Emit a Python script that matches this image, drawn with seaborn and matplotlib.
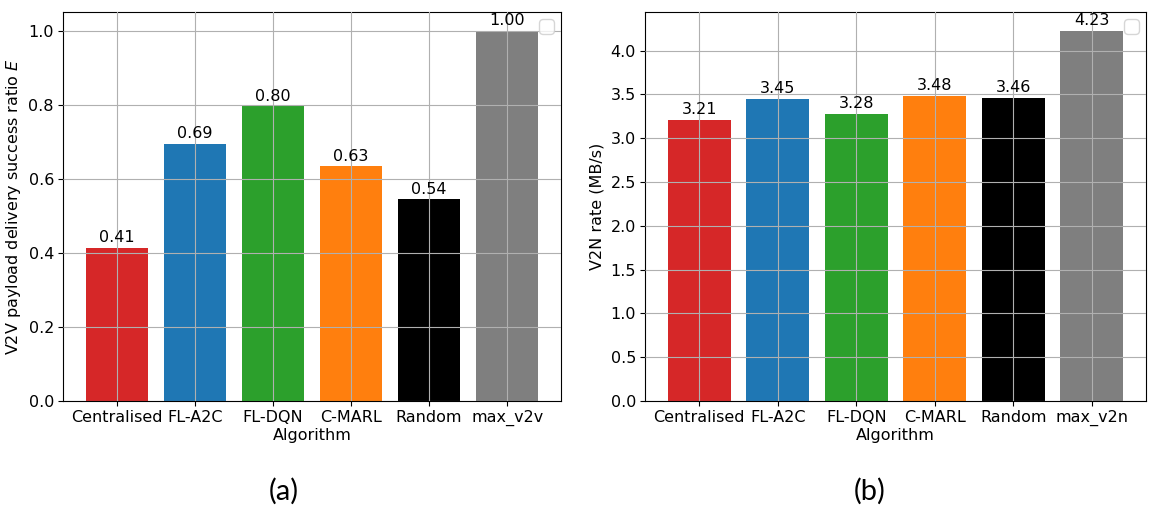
import matplotlib
matplotlib.use("Agg")
import matplotlib.pyplot as plt
import seaborn as sns
import pandas as pd

algorithms_a = ["Centralised", "FL-A2C", "FL-DQN", "C-MARL", "Random", "max_v2v"]
v2v_success = [0.413, 0.694, 0.795, 0.633, 0.544, 1.00]
algorithms_b = ["Centralised", "FL-A2C", "FL-DQN", "C-MARL", "Random", "max_v2n"]
v2n_rate = [3.21, 3.45, 3.28, 3.48, 3.46, 4.23]
bar_colors = ["#d62728", "#1f77b4", "#2ca02c", "#ff7f0e", "#000000", "#7f7f7f"]

plt.rcParams["font.family"] = ["DejaVu Sans"]
FS = 11.5

fig = plt.figure(figsize=(11.52, 5.08), dpi=100)
ax1 = fig.add_axes([0.0547, 0.2106, 0.4323, 0.7658])
ax2 = fig.add_axes([0.5599, 0.2106, 0.4349, 0.7658])

def draw(ax, cats, vals, ylabel):
    df = pd.DataFrame({"Algorithm": cats, "v": vals})
    sns.barplot(data=df, x="Algorithm", y="v", hue="Algorithm",
                palette=bar_colors, saturation=1, width=0.8,
                legend=False, ax=ax, errorbar=None, linewidth=0,
                edgecolor="none")
    for c in ax.containers:
        ax.bar_label(c, fmt="%.2f", fontsize=FS, padding=2, color="black")
    ax.set_xlim(-0.69, len(cats) - 1 + 0.69)
    ax.set_ylim(0, max(vals) * 1.05)
    ax.grid(True, color="#b0b0b0", linewidth=0.8)
    ax.set_axisbelow(False)
    ax.set_xlabel("Algorithm", fontsize=FS, labelpad=1, color="black")
    ax.set_ylabel(ylabel, fontsize=FS, color="black")
    ax.tick_params(axis="both", labelsize=FS, length=3.5, width=0.8,
                   bottom=True, left=True, pad=3, colors="black")
    for s in ax.spines.values():
        s.set_visible(True)
        s.set_color("black")
        s.set_linewidth(0.8)
    ax.legend(handles=[], loc="upper right", fontsize=14, borderaxespad=0.35)

draw(ax1, algorithms_a, v2v_success, "V2V payload delivery success ratio $E$")
draw(ax2, algorithms_b, v2n_rate, "V2N rate (MB/s)")
ax2.set_yticks([0.0, 0.5, 1.0, 1.5, 2.0, 2.5, 3.0, 3.5, 4.0])

fig.text(0.246, 0.033, "(a)", ha="center", va="center", fontsize=21, family=["Lato", "DejaVu Sans"])
fig.text(0.755, 0.033, "(b)", ha="center", va="center", fontsize=21, family=["Lato", "DejaVu Sans"])

fig.savefig("out.png", dpi=100)
